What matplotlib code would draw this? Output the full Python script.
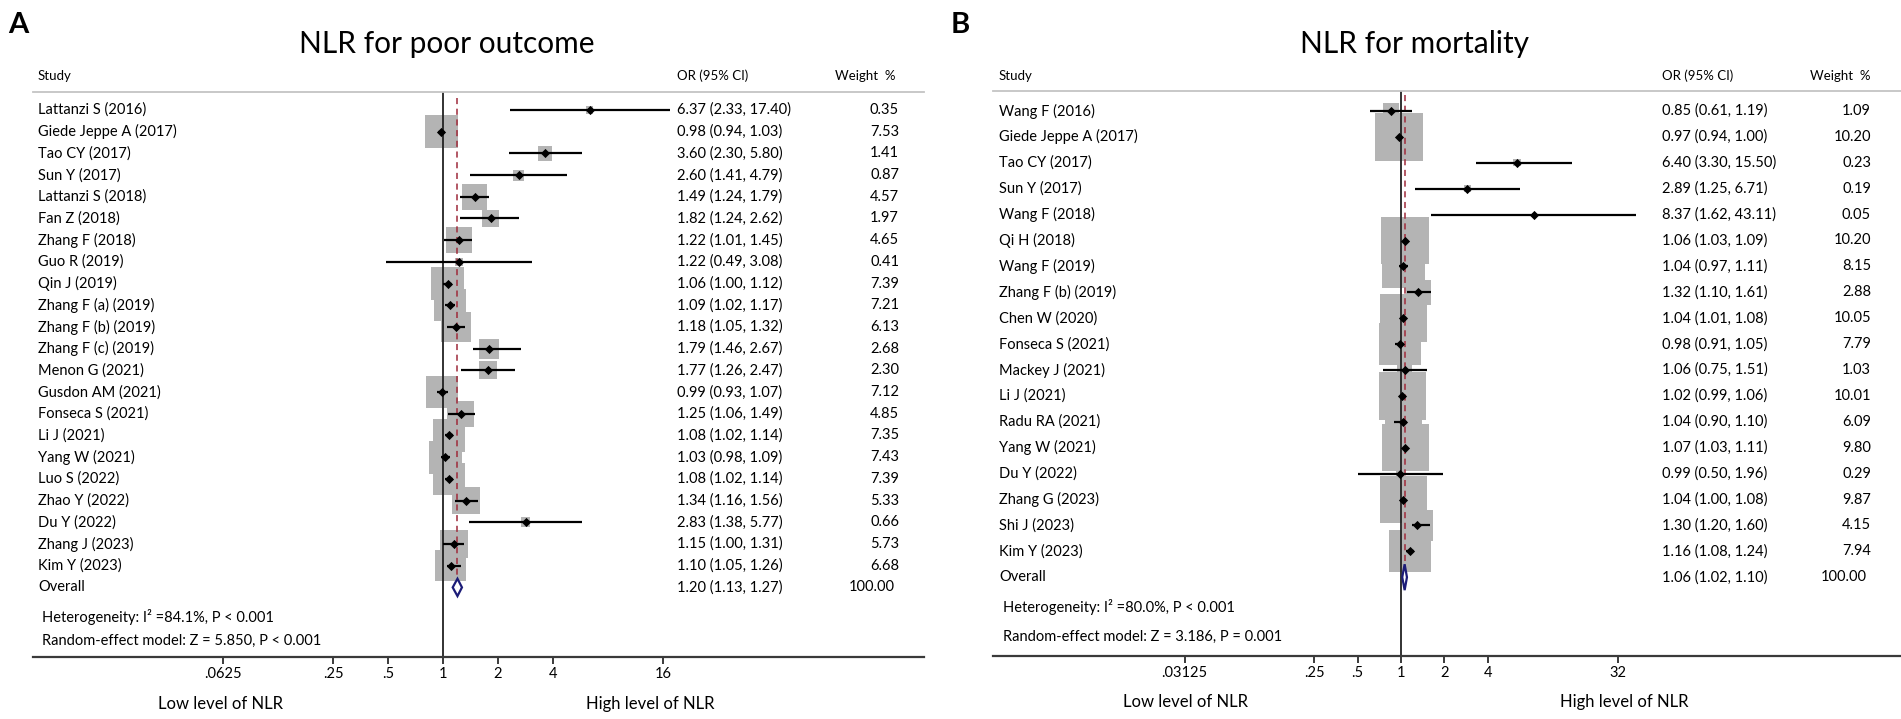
import matplotlib
matplotlib.use("Agg")
import matplotlib.pyplot as plt
from matplotlib.patches import Polygon
from matplotlib.transforms import blended_transform_factory
import numpy as np

W, H = 1901, 719
plt.rcParams["font.family"] = ["Lato", "DejaVu Sans"]

# ── Panel A: poor outcome ────────────────────────────────────
a_study = ["Lattanzi S (2016)", "Giede Jeppe A (2017)", "Tao CY (2017)", "Sun Y (2017)",
           "Lattanzi S (2018)", "Fan Z (2018)", "Zhang F (2018)", "Guo R (2019)",
           "Qin J (2019)", "Zhang F (a) (2019)", "Zhang F (b) (2019)", "Zhang F (c) (2019)",
           "Menon G (2021)", "Gusdon AM (2021)", "Fonseca S (2021)", "Li J (2021)",
           "Yang W (2021)", "Luo S (2022)", "Zhao Y (2022)", "Du Y (2022)",
           "Zhang J (2023)", "Kim Y (2023)"]
a_or = [6.37, 0.98, 3.60, 2.60, 1.49, 1.82, 1.22, 1.22, 1.06, 1.09, 1.18, 1.79,
        1.77, 0.99, 1.25, 1.08, 1.03, 1.08, 1.34, 2.83, 1.15, 1.10]
a_lo = [2.33, 0.94, 2.30, 1.41, 1.24, 1.24, 1.01, 0.49, 1.00, 1.02, 1.05, 1.46,
        1.26, 0.93, 1.06, 1.02, 0.98, 1.02, 1.16, 1.38, 1.00, 1.05]
a_hi = [17.40, 1.03, 5.80, 4.79, 1.79, 2.62, 1.45, 3.08, 1.12, 1.17, 1.32, 2.67,
        2.47, 1.07, 1.49, 1.14, 1.09, 1.14, 1.56, 5.77, 1.31, 1.26]
a_wt = [0.35, 7.53, 1.41, 0.87, 4.57, 1.97, 4.65, 0.41, 7.39, 7.21, 6.13, 2.68,
        2.30, 7.12, 4.85, 7.35, 7.43, 7.39, 5.33, 0.66, 5.73, 6.68]
a_overall = (1.20, 1.13, 1.27)
a_ticks = [0.0625, 0.25, 0.5, 1, 2, 4, 16]
a_ticklabels = [".0625", ".25", ".5", "1", "2", "4", "16"]

# ── Panel B: mortality ───────────────────────────────────────
b_study = ["Wang F (2016)", "Giede Jeppe A (2017)", "Tao CY (2017)", "Sun Y (2017)",
           "Wang F (2018)", "Qi H (2018)", "Wang F (2019)", "Zhang F (b) (2019)",
           "Chen W (2020)", "Fonseca S (2021)", "Mackey J (2021)", "Li J (2021)",
           "Radu RA (2021)", "Yang W (2021)", "Du Y (2022)", "Zhang G (2023)",
           "Shi J (2023)", "Kim Y (2023)"]
b_or = [0.85, 0.97, 6.40, 2.89, 8.37, 1.06, 1.04, 1.32, 1.04, 0.98, 1.06, 1.02,
        1.04, 1.07, 0.99, 1.04, 1.30, 1.16]
b_lo = [0.61, 0.94, 3.30, 1.25, 1.62, 1.03, 0.97, 1.10, 1.01, 0.91, 0.75, 0.99,
        0.90, 1.03, 0.50, 1.00, 1.20, 1.08]
b_hi = [1.19, 1.00, 15.50, 6.71, 43.11, 1.09, 1.11, 1.61, 1.08, 1.05, 1.51, 1.06,
        1.10, 1.11, 1.96, 1.08, 1.60, 1.24]
b_wt = [1.09, 10.20, 0.23, 0.19, 0.05, 10.20, 8.15, 2.88, 10.05, 7.79, 1.03, 10.01,
        6.09, 9.80, 0.29, 9.87, 4.15, 7.94]
b_overall = (1.06, 1.02, 1.10)
b_ticks = [0.03125, 0.25, 0.5, 1, 2, 4, 32]
b_ticklabels = [".03125", ".25", ".5", "1", "2", "4", "32"]

fig = plt.figure(figsize=(W / 100, H / 100), dpi=100)


def fx(px):
    return px / W


def fy(py):
    return 1 - py / H


def panel(cfg):
    (study, orr, lo, hi, wt, overall, ticks, ticklabels, title, letter) = cfg["data"]
    g = cfg["geo"]
    n = len(study)
    # axes covers header line (top) to axis line (bottom)
    ax = fig.add_axes([fx(g["left"]), fy(g["bottom"]),
                       fx(g["right"] - g["left"]), (g["bottom"] - g["top"]) / H])
    ax.set_xscale("log", base=2)
    ax.set_xlim(2 ** ((g["left"] - g["one"]) / g["d"]), 2 ** ((g["right"] - g["one"]) / g["d"]))
    ax.set_ylim((g["bottom"] - g["row0"]) / g["rh"], (g["top"] - g["row0"]) / g["rh"])
    ax.patch.set_alpha(0)
    for s in ("left", "right"):
        ax.spines[s].set_visible(False)
    ax.spines["top"].set_color("#c4c4c4")
    ax.spines["top"].set_linewidth(1.3)
    ax.spines["bottom"].set_color("#3a3a3a")
    ax.spines["bottom"].set_linewidth(1.6)
    ax.set_yticks([])
    ax.set_xticks(ticks)
    ax.set_xticklabels(ticklabels)
    ax.xaxis.set_minor_locator(matplotlib.ticker.NullLocator())
    ax.tick_params(axis="x", direction="out", length=5, width=1.4, color="#3a3a3a",
                   labelsize=10.5, pad=2)

    y = np.arange(n)
    side = g["k"] * np.sqrt(np.array(wt)) * 0.72
    ax.scatter(orr, y, s=side ** 2, marker="s", color="#b4b4b4", linewidths=0, zorder=1)
    ax.axvline(1, color="#222222", lw=1.3, zorder=2)
    ax.plot([overall[0]] * 2, [g["dash_top"], n + 0.2], color="#9e2a3a", lw=1.1,
            ls=(0, (4, 3)), zorder=2)
    ax.hlines(y, lo, hi, color="black", lw=1.6, zorder=3)
    ax.scatter(orr, y, s=22, marker="D", color="black", linewidths=0, zorder=4)
    dh = g["dia"]
    ax.add_patch(Polygon([(overall[1], n), (overall[0], n - dh), (overall[2], n),
                          (overall[0], n + dh)], closed=True, facecolor="white",
                         edgecolor="#1c1c78", lw=1.6, zorder=5))

    tr = blended_transform_factory(fig.transFigure, ax.transData)
    fs = 10.5
    hy = (g["hdr"] - g["row0"]) / g["rh"]
    ax.text(fx(g["c_study"]), hy, "Study", transform=tr, fontsize=9.5, va="center", ha="left")
    ax.text(fx(g["c_or"]), hy, "OR (95% CI)", transform=tr, fontsize=9.5, va="center",
            ha="left")
    ax.text(fx(g["c_wh"]), hy, "Weight  %", transform=tr, fontsize=9.5, va="center",
            ha="left")
    for i in range(n):
        ax.text(fx(g["c_study"]), i, study[i], transform=tr, fontsize=fs, va="center")
        ax.text(fx(g["c_or"]), i, f"{orr[i]:.2f} ({lo[i]:.2f}, {hi[i]:.2f})", transform=tr,
                fontsize=fs, va="center")
        ax.text(fx(g["c_w"]), i, f"{wt[i]:.2f}", transform=tr, fontsize=fs, va="center",
                ha="right")
    ax.text(fx(g["c_study"]), n, "Overall", transform=tr, fontsize=fs, va="center")
    ax.text(fx(g["c_or"]), n, f"{overall[0]:.2f} ({overall[1]:.2f}, {overall[2]:.2f})",
            transform=tr, fontsize=fs, va="center")
    ax.text(fx(g["c_w"] - 4), n, "100.00", transform=tr, fontsize=fs, va="center", ha="right")
    ax.text(fx(g["c_study"] + 4), (g["het1"] - g["row0"]) / g["rh"], cfg["het"], transform=tr,
            fontsize=fs, va="center")
    ax.text(fx(g["c_study"] + 4), (g["het2"] - g["row0"]) / g["rh"], cfg["re"], transform=tr,
            fontsize=fs, va="center")

    fig.text(fx(g["low"]), fy(g["lab_y"]), "Low level of NLR", fontsize=12, ha="center",
             va="center")
    fig.text(fx(g["high"]), fy(g["lab_y"]), "High level of NLR", fontsize=12, ha="center",
             va="center")
    fig.text(fx(g["title_x"]), fy(44), title, fontsize=21.5, ha="center", va="center")
    fig.text(fx(g["letter_x"]), fy(25), letter, fontsize=21, fontweight="bold",
             ha="left", va="center")
    return ax


panel({
    "data": (a_study, a_or, a_lo, a_hi, a_wt, a_overall, a_ticks, a_ticklabels,
             "NLR for poor outcome", "A"),
    "geo": dict(left=33, right=924, top=92, bottom=657, one=443, d=55, row0=110, rh=21.7,
                k=12, dia=0.4, dash_top=-0.55, c_study=38, c_or=677, c_wh=835, c_w=899,
                hdr=76, het1=617, het2=641, low=220, high=650, lab_y=704,
                title_x=447, letter_x=8),
    "het": "Heterogeneity: I² =84.1%, P < 0.001",
    "re": "Random-effect model: Z = 5.850, P < 0.001",
})

panel({
    "data": (b_study, b_or, b_lo, b_hi, b_wt, b_overall, b_ticks, b_ticklabels,
             "NLR for mortality", "B"),
    "geo": dict(left=993, right=1901, top=91, bottom=656, one=1401, d=43.3, row0=111,
                rh=25.9, k=15, dia=0.5, dash_top=-0.6, c_study=999, c_or=1662, c_wh=1810,
                c_w=1871, hdr=76, het1=607, het2=637, low=1185, high=1624, lab_y=702,
                title_x=1415, letter_x=951),
    "het": "Heterogeneity: I² =80.0%, P < 0.001",
    "re": "Random-effect model: Z = 3.186, P = 0.001",
})

fig.savefig("out.png", dpi=100)
